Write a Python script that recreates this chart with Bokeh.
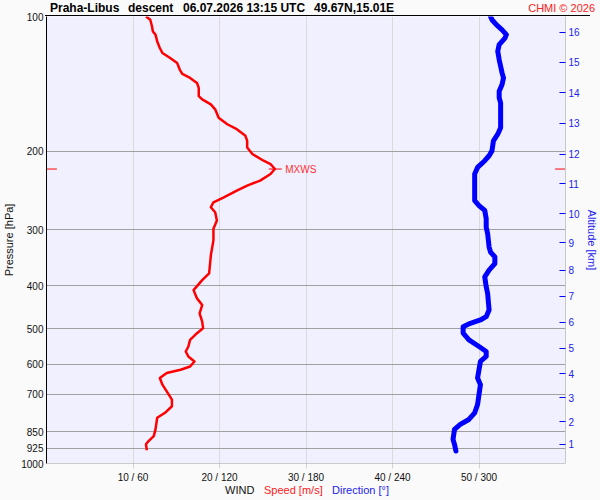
import numpy as np
from bokeh.plotting import figure
from bokeh.layouts import column
from bokeh.models import Range1d, LogAxis, FixedTicker, Label, Span, BasicTickFormatter, Div
from bokeh.embed import file_html
from bokeh.resources import INLINE

# ---------------- data ----------------
speed_pressure = [100, 101.7, 105.3, 108.0, 109.8, 113.7, 117.6, 120.7, 123.8, 127.0,
                  131.4, 134.4, 137.2, 140.8, 144.4, 150.7, 153.2, 157.2, 161.3, 168.4,
                  174.2, 178.7, 184.9, 189.7, 196.4, 203.1, 210.2, 213.8, 219.4, 225.1,
                  232.9, 238.9, 245.2, 253.8, 260.4, 267.1, 274.1, 286.0, 298.5, 316.8,
                  342.1, 375.7, 388.9, 409.4, 427.2, 442.1, 461.3, 481.6, 498.1, 511.0,
                  528.9, 547.4, 561.6, 576.2, 591.2, 606.6, 616.9, 627.5, 643.8, 666.3,
                  689.6, 719.5, 744.6, 770.2, 790.2, 838.9, 868.2, 890.7, 906.0, 934.2]
speed_ms = [11.5, 12.0, 12.2, 12.3, 12.6, 12.8, 13.1, 13.4, 14.3, 15.1,
            15.4, 15.7, 16.6, 17.4, 17.6, 17.6, 18.0, 19.0, 19.5, 19.9,
            20.9, 22.0, 23.0, 23.2, 23.2, 23.8, 25.1, 25.9, 26.4, 25.9,
            24.7, 23.2, 22.0, 20.5, 19.3, 19.0, 19.5, 19.7, 19.3, 19.3,
            19.0, 18.8, 18.0, 17.0, 17.4, 18.0, 17.7, 18.0, 18.1, 17.4,
            16.6, 16.4, 16.1, 16.4, 17.1, 16.6, 15.5, 13.9, 13.1, 13.4,
            13.9, 14.5, 14.5, 13.7, 12.8, 12.6, 12.4, 11.8, 11.5, 11.6]

dir_pressure = [100, 101.7, 104.3, 107.1, 109.8, 111.8, 115.6, 119.6, 124.9, 129.2,
                133.7, 137.2, 141.9, 146.9, 152.0, 156.0, 165.5, 177.3, 183.4, 189.7,
                199.8, 204.9, 210.2, 217.6, 225.1, 241.1, 258.1, 264.8, 271.6, 283.5,
                296.0, 306.2, 328.0, 336.5, 345.1, 357.0, 369.4, 382.3, 402.5, 416.4,
                453.5, 469.4, 477.4, 485.6, 494.2, 511.0, 528.9, 547.4, 561.6, 576.2,
                591.2, 616.9, 643.8, 666.3, 701.3, 738.0, 770.2, 797.1, 817.7, 838.9,
                883.1, 906.0, 937.6]
dir_deg = [308, 309, 312, 316, 319, 318, 314, 313, 314, 315,
           316, 317, 316, 314, 314, 315, 315, 315, 313, 310,
           309, 307, 304, 299, 297, 297, 297, 300, 304, 305,
           305, 306, 307, 308, 311, 311, 307, 304, 305, 306,
           307, 305, 301, 294, 289, 289, 293, 300, 305, 305,
           301, 300, 299, 301, 300, 299, 297, 293, 287, 283,
           282, 283, 284]

pressure_ticks = [100, 200, 300, 400, 500, 600, 700, 850, 925, 1000]
pressure_grid = [200, 300, 400, 500, 600, 700, 850, 925, 1000]
speed_ticks = [10, 20, 30, 40, 50]
dir_ticks = [60, 120, 180, 240, 300]
alt_km = [1, 2, 3, 4, 5, 6, 7, 8, 9, 10, 11, 12, 13, 14, 15, 16]
alt_pressure = [905.9, 806.5, 713.1, 629.5, 551.9, 483.1, 422.2, 369.4,
                320.6, 276.3, 236.9, 203.1, 173.4, 148.2, 126.6, 108.5]

title_parts = ["Praha-Libus", "descent", "06.07.2026 13:15 UTC", "49.67N,15.01E"]
credit = "CHMI \u00a9 2026"
legend_parts = ["WIND", "Speed [m/s]", "Direction [\u00b0]"]

# ---------------- styling ----------------
FONT = "Liberation Sans"
CSS_FONT = "'Liberation Sans', Arial, sans-serif"
W = 600
HDR_H, FTR_H = 16, 15
TOP_B = 8                      # main plot top border, overlapping the header strip
MAIN_H = 500 - HDR_H - FTR_H + TOP_B
BL, BR = 45, 35
BG_OUT = "#FAFAFA"
BG_IN = "#F0F0FF"

# ---- header (title line) ----
title_x = [BL + 5, BL + 83, BL + 138, BL + 269]
spans = "".join(
    f'<span style="position:absolute;left:{x}px;top:0;font-size:12px;font-weight:bold;'
    f'line-height:16px;color:#000;white-space:nowrap">{t}</span>'
    for x, t in zip(title_x, title_parts))
spans += (f'<span style="position:absolute;right:5px;top:0;font-size:11px;line-height:16px;'
          f'color:#FF2020;white-space:nowrap">{credit}</span>')
spans += (f'<div style="position:absolute;left:{BL}px;top:{HDR_H - 1}px;width:{W - BL - 10}px;'
          f'height:1px;background:#000"></div>')
hdr = Div(text=f'<div style="position:relative;width:{W}px;height:{HDR_H}px;background:{BG_OUT};'
               f'font-family:{CSS_FONT};overflow:hidden">{spans}</div>',
          width=W, height=HDR_H, margin=(0, 0, 0, 0))

# ---- main plot ----
p = figure(width=W, height=MAIN_H,
           min_border_left=BL, min_border_right=BR, min_border_top=TOP_B, min_border_bottom=21,
           x_range=Range1d(0, 60), y_range=Range1d(1000, 100), y_axis_type="log",
           output_backend="svg", toolbar_location=None,
           background_fill_color=BG_IN, border_fill_color=BG_OUT, border_fill_alpha=0,
           outline_line_color=None, margin=(-TOP_B, 0, 0, 0))
p.extra_x_ranges = {"dir": Range1d(0, 360)}

xa = p.xaxis[0]
xa.ticker = FixedTicker(ticks=speed_ticks)
xa.major_label_overrides = {s: f"{s} / {d}" for s, d in zip(speed_ticks, dir_ticks)}
xa.axis_line_color = None
xa.major_tick_line_color = "#D4D4D4"
xa.major_tick_in = 0
xa.major_tick_out = 5
xa.minor_tick_line_color = None
xa.major_label_text_font = FONT
xa.major_label_text_font_size = "10px"
xa.major_label_text_color = "#111111"
xa.major_label_standoff = 3

ya = p.yaxis[0]
ya.ticker = FixedTicker(ticks=pressure_ticks)
ya.formatter = BasicTickFormatter(use_scientific=False)
ya.axis_line_color = "black"
ya.major_tick_line_color = None
ya.major_tick_in = 0
ya.major_tick_out = 0
ya.minor_tick_line_color = None
ya.major_label_text_font = FONT
ya.major_label_text_font_size = "10px"
ya.major_label_text_color = "#111111"
ya.major_label_standoff = 3
ya.axis_label = "Pressure [hPa]"
ya.axis_label_text_font = FONT
ya.axis_label_text_font_size = "11px"
ya.axis_label_text_font_style = "normal"
ya.axis_label_text_color = "#111111"
ya.axis_label_standoff = 3

ar = LogAxis(ticker=FixedTicker(ticks=alt_pressure),
             formatter=BasicTickFormatter(use_scientific=False),
             major_label_overrides={pr: str(k) for pr, k in zip(alt_pressure, alt_km)},
             axis_line_color="#C8C8C8",
             major_tick_line_color="#0000FF", major_tick_in=6, major_tick_out=0,
             minor_tick_line_color=None,
             major_label_text_font=FONT, major_label_text_font_size="10px",
             major_label_text_color="#2222EE", major_label_standoff=3,
             axis_label="Altitude [km]", axis_label_text_font=FONT,
             axis_label_text_font_size="11px", axis_label_text_font_style="normal",
             axis_label_text_color="#2222EE", axis_label_standoff=3)
p.add_layout(ar, "right")

p.xgrid[0].ticker = FixedTicker(ticks=speed_ticks)
p.xgrid[0].grid_line_color = "#DADADA"
p.ygrid[0].ticker = FixedTicker(ticks=pressure_grid)
p.ygrid[0].grid_line_color = "#A0A0A0"
p.add_layout(Span(location=1000, dimension="width", line_color="#A0A0A0", line_width=1))

p.line(speed_ms, speed_pressure, line_color="#FF0000", line_width=2.5, line_join="round")
p.line(dir_deg, dir_pressure, x_range_name="dir", line_color="#0000FF", line_width=5,
       line_join="round", line_cap="round")

imax = int(np.argmax(speed_ms))
mx_s, mx_p = speed_ms[imax], speed_pressure[imax]
x0, x1 = p.x_range.start, p.x_range.end
p.segment(x0=[mx_s - 0.7, x0, x1 - 1.2], y0=[mx_p] * 3,
          x1=[mx_s + 0.8, x0 + 1.2, x1], y1=[mx_p] * 3,
          line_color="#FF0000", line_width=1)
p.add_layout(Label(x=mx_s + 1.2, y=mx_p, text="MXWS", text_font=FONT, text_font_size="10px",
                   text_color="#FF3030", text_baseline="middle", text_align="left"))

# ---- footer (WIND legend line) ----
fx = [225, 264, 332]
fcol = ["#111111", "#FF2020", "#2222EE"]
fspans = "".join(
    f'<span style="position:absolute;left:{x}px;top:-2px;font-size:11px;line-height:15px;'
    f'color:{c};white-space:nowrap">{t}</span>'
    for x, t, c in zip(fx, legend_parts, fcol))
ftr = Div(text=f'<div style="position:relative;width:{W}px;height:{FTR_H}px;background:{BG_OUT};'
               f'font-family:{CSS_FONT};overflow:hidden">{fspans}</div>',
          width=W, height=FTR_H, margin=(0, 0, 0, 0))

layout = column(hdr, p, ftr, spacing=0, styles={"background-color": BG_OUT})
open("out.html", "w").write(file_html(layout, INLINE))
